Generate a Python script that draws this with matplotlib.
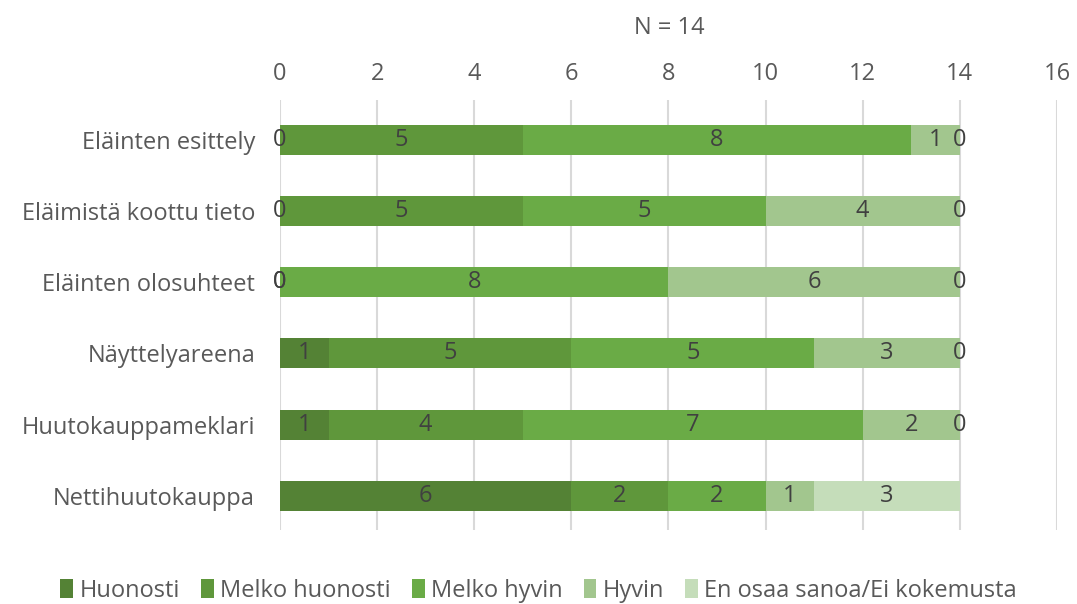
import matplotlib.pyplot as plt
import numpy as np

plt.rcParams['font.family'] = ['Open Sans', 'DejaVu Sans']

categories = ["Eläinten esittely", "Eläimistä koottu tieto", "Eläinten olosuhteet",
              "Näyttelyareena", "Huutokauppameklari", "Nettihuutokauppa"]
series = ["Huonosti", "Melko huonosti", "Melko hyvin", "Hyvin", "En osaa sanoa/Ei kokemusta"]
huonosti = [0, 0, 0, 1, 1, 6]
melko_huonosti = [5, 5, 0, 5, 4, 2]
melko_hyvin = [8, 5, 8, 5, 7, 2]
hyvin = [1, 4, 6, 3, 2, 1]
en_osaa = [0, 0, 0, 0, 0, 3]
colors = ["#548235", "#5f973b", "#6aab46", "#a2c68e", "#c5ddba"]
title = "N = 14"

values = [huonosti, melko_huonosti, melko_hyvin, hyvin, en_osaa]
txt = "#595959"
fs = 17

fig = plt.figure(figsize=(10.77, 6.04), dpi=100)
ax = fig.add_axes([0.26, 0.1225, 0.7214, 0.712])

y = np.arange(len(categories))
left = np.zeros(len(categories))
for name, vals, col in zip(series, values, colors):
    vals = np.array(vals, dtype=float)
    ax.barh(y, vals, left=left, height=0.42, color=col, label=name, zorder=3)
    # segment labels, zeros included
    for yi, l, v in zip(y, left, vals):
        ax.text(l + v / 2, yi, f"{int(v)}", ha="center", va="center",
                fontsize=fs, color="#404040", zorder=4)
    left += vals

ax.set_xlim(0, 16)
ax.set_ylim(5.48, -0.56)
ax.set_xticks(range(0, 17, 2))
ax.xaxis.tick_top()
ax.tick_params(axis="x", length=0, pad=10, labelsize=fs, labelcolor=txt)
ax.tick_params(axis="y", length=0, pad=18, labelsize=fs, labelcolor=txt)
ax.set_yticks(y)
ax.set_yticklabels(categories)
ax.grid(axis="x", color="#d9d9d9", linewidth=1.5, zorder=0)
for s in ax.spines.values():
    s.set_visible(False)

fig.text(0.621, 0.953, title, ha="center", va="center", fontsize=fs, color=txt)

fig.legend(loc="center", bbox_to_anchor=(0.5, 0.022), ncol=5, frameon=False,
           fontsize=fs, handlelength=0.55, handleheight=0.8, handletextpad=0.25,
           columnspacing=0.9, labelcolor=txt)

fig.savefig("out.png", dpi=100)
